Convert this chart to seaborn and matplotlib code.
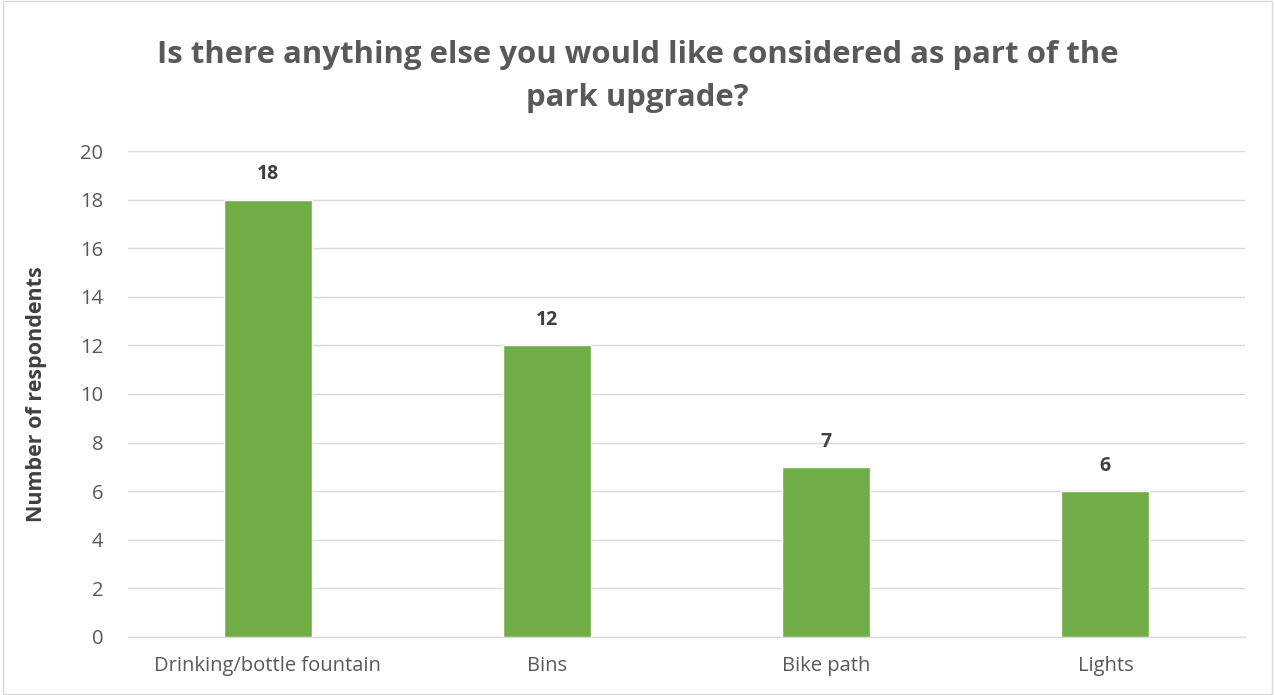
import matplotlib
matplotlib.use("Agg")
import matplotlib.pyplot as plt
import seaborn as sns
import pandas as pd

categories = ["Drinking/bottle fountain", "Bins", "Bike path", "Lights"]
respondents = [18, 12, 7, 6]
y_ticks = [0, 2, 4, 6, 8, 10, 12, 14, 16, 18, 20]

sns.set_theme(style="white")
plt.rcParams['font.family'] = ['Open Sans', 'DejaVu Sans']

df = pd.DataFrame({"category": categories, "count": respondents})

fig = plt.figure(figsize=(12.75, 6.95), dpi=100)
ax = fig.add_axes([0.1004, 0.0835, 0.8761, 0.6992])

sns.barplot(data=df, x="category", y="count", ax=ax, color="#70AD47",
            width=0.315, saturation=1, zorder=3)

ax.set_ylim(0, 20)
ax.set_yticks(y_ticks)
ax.grid(axis="y", color="#D9D9D9", linewidth=1, zorder=0)
for side in ["top", "right", "left"]:
    ax.spines[side].set_visible(False)
ax.spines["bottom"].set_color("#D9D9D9")
ax.spines["bottom"].set_linewidth(1)
ax.tick_params(axis="both", length=0, labelsize=14.5, colors="#595959")
ax.tick_params(axis="x", pad=14)
ax.tick_params(axis="y", pad=18)
ax.set_xlabel("")
ax.set_ylabel("Number of respondents", fontsize=15.5, fontweight="bold",
              color="#404040", labelpad=24)

for i, v in enumerate(respondents):
    ax.annotate(str(v), (i, v), xytext=(0, 11), textcoords="offset points",
                ha="center", va="bottom", fontsize=14, fontweight="bold",
                color="#404040")

fig.text(0.5, 0.89, "Is there anything else you would like considered as part of the\npark upgrade?",
         ha="center", va="center", fontsize=22.4, fontweight="bold",
         color="#595959", linespacing=1.55)

fig.patches.append(plt.Rectangle((0.002, 0.002), 0.996, 0.996, transform=fig.transFigure,
                                 fill=False, edgecolor="#D9D9D9", linewidth=1))

fig.savefig("out.png", dpi=100)
